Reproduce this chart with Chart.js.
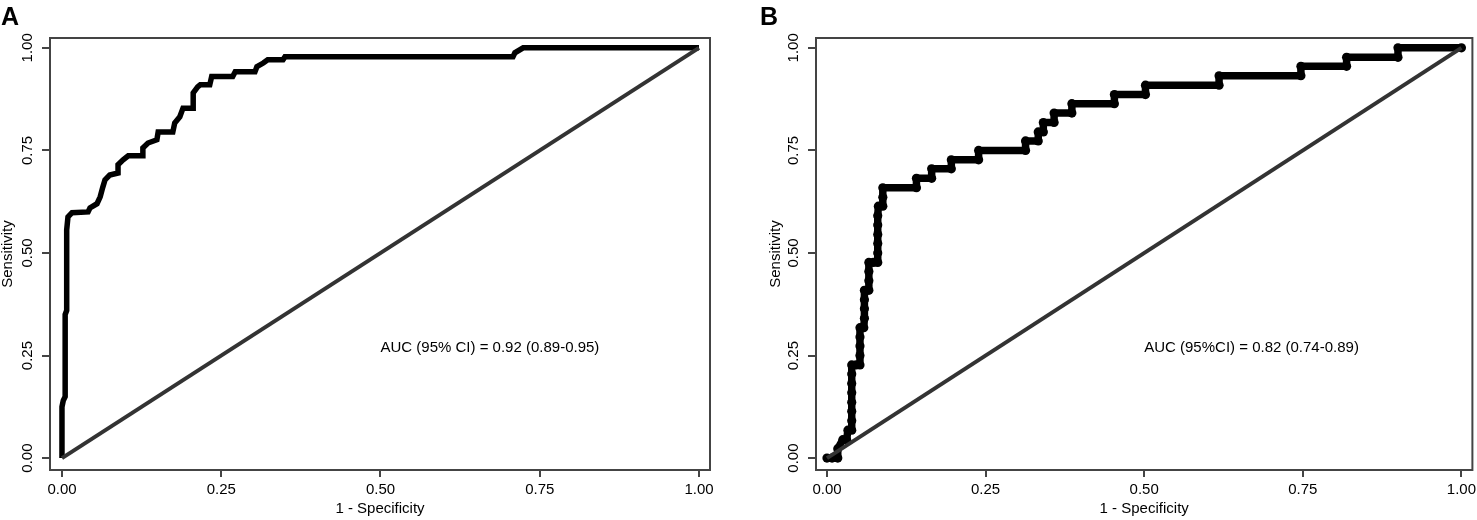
<!DOCTYPE html>
<html>
<head>
<meta charset="utf-8">
<script src="https://cdn.jsdelivr.net/npm/chart.js@4.4.0/dist/chart.umd.min.js"></script>
<style>
    body { margin: 0; background: #fff; }
    #wrap { position: relative; width: 1477px; height: 520px; }
    canvas { position: absolute; top: 0; }
    #roc-a { left: 0; }
    #roc-b { left: 738px; }
</style>
</head>
<body>
<div id="wrap">
    <canvas id="roc-a" width="738" height="520"></canvas>
    <canvas id="roc-b" width="739" height="520"></canvas>
</div>
<script>
// ticks used on both axes of both panels
var tickValues = [0, 0.25, 0.5, 0.75, 1];

// panel A: 1 - specificity / sensitivity
var fprA = [0, 0, 0.002, 0.005, 0.005, 0.0074, 0.0074, 0.0094, 0.0157, 0.041,
    0.044, 0.055, 0.060, 0.064, 0.0675, 0.075, 0.088, 0.088, 0.096, 0.104,
    0.126, 0.127, 0.135, 0.149, 0.151, 0.174, 0.177, 0.185, 0.19, 0.206,
    0.206, 0.213, 0.217, 0.232, 0.235, 0.268, 0.272, 0.303, 0.306, 0.316,
    0.323, 0.347, 0.35, 0.708, 0.711, 0.724, 1];
var tprA = [0, 0.125, 0.14, 0.15, 0.35, 0.36, 0.556, 0.588, 0.598, 0.60,
    0.61, 0.62, 0.637, 0.66, 0.678, 0.69, 0.695, 0.715, 0.727, 0.737,
    0.737, 0.756, 0.768, 0.776, 0.795, 0.795, 0.817, 0.832, 0.853, 0.853,
    0.89, 0.905, 0.91, 0.91, 0.93, 0.93, 0.942, 0.942, 0.954, 0.963,
    0.971, 0.971, 0.978, 0.978, 0.988, 1, 1];

// panel B: one entry per visible dot on the rising parts, ends of the flat parts
var fprB = [0, 0.008, 0.017, 0.017, 0.025, 0.031, 0.033, 0.039, 0.039, 0.039,
    0.039, 0.039, 0.039, 0.039, 0.039, 0.046, 0.052, 0.052, 0.052, 0.052,
    0.052, 0.058, 0.059, 0.059, 0.059, 0.059, 0.066, 0.066, 0.066, 0.066,
    0.073, 0.08, 0.08, 0.08, 0.08, 0.08, 0.08, 0.081, 0.088, 0.088,
    0.088, 0.141, 0.141, 0.165, 0.165, 0.196, 0.196, 0.239, 0.239, 0.313,
    0.313, 0.333, 0.333, 0.341, 0.341, 0.358, 0.358, 0.386, 0.386, 0.453,
    0.453, 0.502, 0.502, 0.618, 0.618, 0.747, 0.747, 0.819, 0.819, 0.9,
    0.9, 1];
var tprB = [0, 0, 0, 0.023, 0.045, 0.045, 0.068, 0.068, 0.091, 0.114,
    0.136, 0.159, 0.182, 0.205, 0.227, 0.227, 0.227, 0.25, 0.273, 0.295,
    0.318, 0.318, 0.341, 0.364, 0.386, 0.409, 0.409, 0.432, 0.455, 0.477,
    0.477, 0.477, 0.5, 0.523, 0.545, 0.568, 0.591, 0.614, 0.614, 0.636,
    0.659, 0.659, 0.682, 0.682, 0.705, 0.705, 0.727, 0.727, 0.75, 0.75,
    0.773, 0.773, 0.795, 0.795, 0.818, 0.818, 0.841, 0.841, 0.864, 0.864,
    0.886, 0.886, 0.909, 0.909, 0.932, 0.932, 0.955, 0.955, 0.977, 0.977,
    1, 1];

// chance line
var diagX = [0, 1];
var diagY = [0, 1];

var aucTextA = 'AUC (95% CI) = 0.92 (0.89-0.95)';
var aucTextB = 'AUC (95%CI) = 0.82 (0.74-0.89)';
var aucX = 0.5;
var aucY = 0.268;

var FONT = "'Liberation Sans', Arial, Helvetica, sans-serif";

Chart.defaults.font.family = FONT;
Chart.defaults.font.size = 15;
Chart.defaults.color = '#000';
Chart.defaults.animation = false;

function toPoints(xs, ys) {
    return xs.map(function (x, i) {
        return { x: x, y: ys[i] };
    });
}

// box, rotated y tick labels, AUC note and panel letter, R style
const rocDecor = {
    id: 'rocDecor',
    afterDraw: function (chart, args, opts) {
        var ctx = chart.ctx;
        var a = chart.chartArea;
        var xs = chart.scales.x;
        var ys = chart.scales.y;
        ctx.save();
        ctx.strokeStyle = '#444';
        ctx.lineWidth = 2;
        ctx.strokeRect(a.left, a.top, a.right - a.left, a.bottom - a.top);

        ctx.fillStyle = '#000';
        ctx.font = '15px ' + FONT;
        ctx.textAlign = 'center';
        ctx.textBaseline = 'middle';
        tickValues.forEach(function (v) {
            ctx.save();
            ctx.translate(a.left - 22.5, ys.getPixelForValue(v));
            ctx.rotate(-Math.PI / 2);
            ctx.fillText(v.toFixed(2), 0, 0);
            ctx.restore();
        });

        ctx.textAlign = 'left';
        ctx.fillText(opts.auc, xs.getPixelForValue(aucX), ys.getPixelForValue(aucY));

        ctx.font = 'bold 25px ' + FONT;
        ctx.textBaseline = 'alphabetic';
        ctx.fillText(opts.letter, opts.letterX, 25);
        ctx.restore();
    }
};

function makeRoc(canvasId, rocData, rocStyle, xMin, xMax, pad, yTitlePad, letter, letterX, auc) {
    var ctx = document.getElementById(canvasId).getContext('2d');
    return new Chart(ctx, {
        type: 'scatter',
        data: {
            datasets: [{
                data: toPoints(diagX, diagY),
                showLine: true,
                borderColor: '#333',
                borderWidth: 4,
                pointRadius: 0
            }, Object.assign({
                data: rocData,
                showLine: true,
                borderColor: '#000',
                backgroundColor: '#000',
                tension: 0
            }, rocStyle)]
        },
        options: {
            responsive: false,
            devicePixelRatio: 1,
            layout: { padding: pad },
            plugins: {
                legend: { display: false },
                tooltip: { enabled: false },
                rocDecor: { letter: letter, letterX: letterX, auc: auc }
            },
            scales: {
                x: {
                    type: 'linear',
                    min: xMin,
                    max: xMax,
                    afterBuildTicks: function (scale) {
                        scale.ticks = tickValues.map(function (v) { return { value: v }; });
                    },
                    afterFit: function (scale) {
                        scale.height = 50;
                        scale.paddingLeft = 0;
                        scale.paddingRight = 0;
                    },
                    ticks: {
                        padding: 4,
                        maxRotation: 0,
                        autoSkip: false,
                        callback: function (v) { return Number(v).toFixed(2); }
                    },
                    grid: {
                        drawOnChartArea: false,
                        drawTicks: true,
                        tickLength: 7,
                        color: '#444',
                        lineWidth: 2
                    },
                    border: { display: false },
                    title: {
                        display: true,
                        text: '1 - Specificity',
                        padding: { top: 0, bottom: 2 }
                    }
                },
                y: {
                    type: 'linear',
                    min: -0.029,
                    max: 1.024,
                    afterBuildTicks: function (scale) {
                        scale.ticks = tickValues.map(function (v) { return { value: v }; });
                    },
                    afterFit: function (scale) {
                        scale.width = 50;
                        scale.paddingTop = 0;
                        scale.paddingBottom = 0;
                    },
                    ticks: { display: false },
                    grid: {
                        drawOnChartArea: false,
                        drawTicks: true,
                        tickLength: 8,
                        color: '#444',
                        lineWidth: 2
                    },
                    border: { display: false },
                    title: {
                        display: true,
                        text: 'Sensitivity',
                        padding: { top: yTitlePad, bottom: 0 }
                    }
                }
            }
        },
        plugins: [rocDecor]
    });
}

var rocA = makeRoc('roc-a', toPoints(fprA, tprA),
    { borderWidth: 5.5, pointRadius: 0 },
    -0.0188, 1.0173, { left: 0, right: 28, top: 38, bottom: 0 }, -1.5, 'A', 1, aucTextA);

var rocB = makeRoc('roc-b', toPoints(fprB, tprB),
    { borderWidth: 7.5, pointRadius: 4.6, pointBorderWidth: 0, pointBackgroundColor: '#000', borderJoinStyle: 'round' },
    -0.0173, 1.0173, { left: 28, right: 2, top: 38, bottom: 0 }, 0.5, 'B', 22, aucTextB);
</script>
</body>
</html>
